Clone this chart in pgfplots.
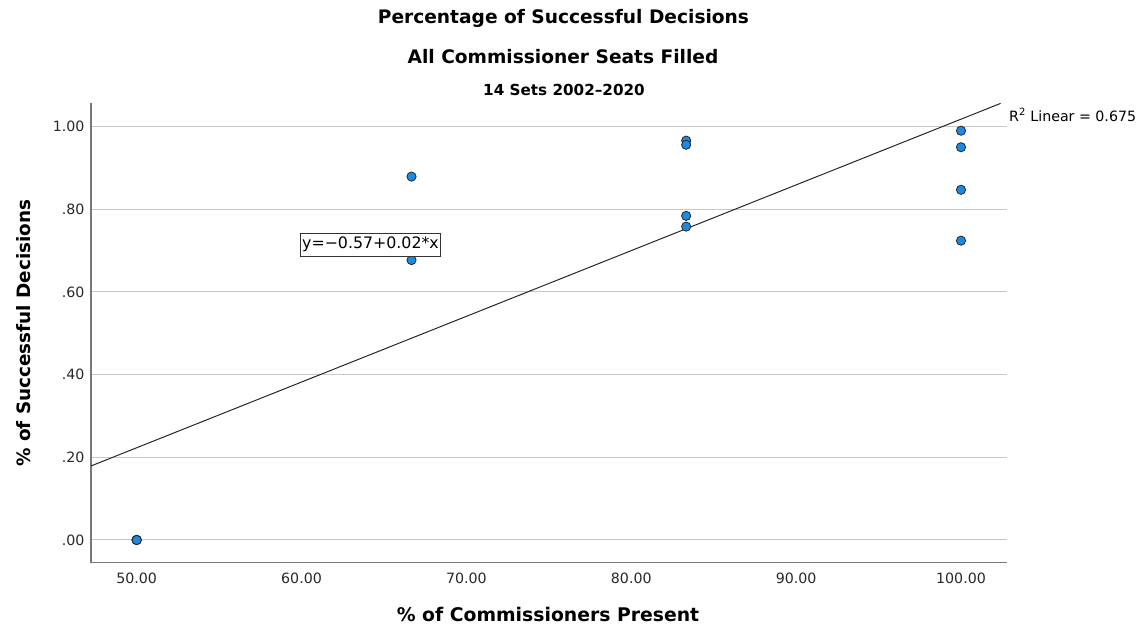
\documentclass[border=0pt]{standalone}
\usepackage{fontspec}
\setmainfont{DejaVu Sans}
\usepackage{pgfplots}
\pgfplotsset{compat=1.18}
\definecolor{dotblue}{RGB}{28,138,228}
\definecolor{gridgray}{RGB}{200,200,200}
\definecolor{axisgray}{RGB}{120,120,120}
\definecolor{ticktext}{RGB}{40,40,40}
\begin{document}
\begin{tikzpicture}
\useasboundingbox (-91bp,-65.3bp) rectangle (1050bp,562.7bp);
\begin{axis}[
  at={(0,0)}, anchor=south west,
  scale only axis, width=916bp, height=459.7bp,
  xmin=47.23, xmax=102.79, ymin=-0.055, ymax=1.057,
  axis x line*=bottom, axis y line*=left,
  axis line style={axisgray, line width=1.1pt},
  major tick length=0pt,
  xtick={50,60,70,80,90,100},
  xticklabels={50.00,60.00,70.00,80.00,90.00,100.00},
  ytick={0,0.2,0.4,0.6,0.8,1.0},
  yticklabels={.00,.20,.40,.60,.80,1.00},
  ymajorgrids,
  grid style={gridgray, line width=1pt},
  ticklabel style={font=\fontsize{14.2bp}{16bp}\selectfont, text=ticktext},
  xticklabel style={yshift=-6.5bp},
  yticklabel style={xshift=-3bp},
  clip=true,
]
% fitted regression line
\addplot[black!85, line width=1pt] coordinates {(47.23,0.179) (102.4,1.056)};
% observed sets
\addplot[only marks, mark=*, mark size=4.6bp,
  mark options={fill=dotblue, draw=black!85, line width=0.8pt}]
  coordinates {
  (50,0) (50,0) (50,0) (50,0)
  (66.67,0.879) (66.67,0.677)
  (83.33,0.966) (83.33,0.956) (83.33,0.784) (83.33,0.758)
  (100,0.990) (100,0.950) (100,0.847) (100,0.724)
  };
\end{axis}
% titles
\node[font=\fontsize{18.6bp}{20bp}\selectfont\bfseries] at (472.5bp,544.7bp) {Percentage of Successful Decisions};
\node[font=\fontsize{18.6bp}{20bp}\selectfont\bfseries] at (472bp,506bp) {All Commissioner Seats Filled};
\node[font=\fontsize{15.2bp}{17bp}\selectfont\bfseries] at (473bp,472.7bp) {14 Sets 2002–2020};
% axis titles
\node[font=\fontsize{18.4bp}{20bp}\selectfont\bfseries, rotate=90] at (-67bp,229.7bp) {\% of Successful Decisions};
\node[font=\fontsize{18.8bp}{20bp}\selectfont\bfseries] at (457bp,-51.3bp) {\% of Commissioners Present};
% fit annotations
\node[draw=black!80, line width=0.8pt, fill=white, inner xsep=2pt, inner ysep=4pt, font=\fontsize{15.8bp}{17bp}\selectfont] at (279.5bp,318.2bp) {y=−0.57+0.02*x};
\node[anchor=west, inner sep=0pt, font=\fontsize{14.2bp}{16bp}\selectfont] at (918bp,447.7bp) {R\textsuperscript{2} Linear = 0.675};
\end{tikzpicture}
\end{document}
